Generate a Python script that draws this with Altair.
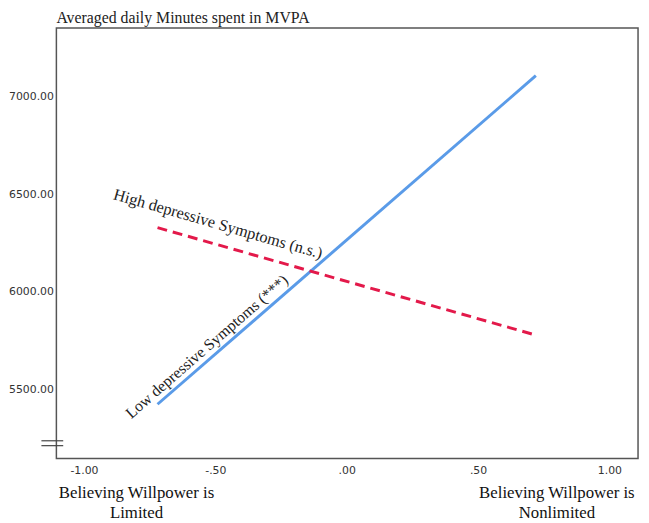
import altair as alt
import pandas as pd

# ---- data ----
x_points = [-0.72, 0.72]
low_vals = [5424, 7106]     # Low depressive Symptoms (***)
high_vals = [6328, 5778]    # High depressive Symptoms (n.s.)

y_ticks = [5500, 6000, 6500, 7000]
x_ticks = [-1.0, -0.5, 0.0, 0.5, 1.0]

label_text = ["High depressive Symptoms (n.s.)", "Low depressive Symptoms (***)"]
label_x = [-0.49, -0.532]
label_y = [6346, 5718]
label_angle = [16, 319]
label_size = [16.5, 16]

bottom_text = ["Believing Willpower is\nLimited", "Believing Willpower is\nNonlimited"]
bottom_x = [-0.80, 0.80]
bottom_y = [4968, 4968]

break_y = [5237, 5212]
break_x1 = [-1.162, -1.162]
break_x2 = [-1.079, -1.079]

X_DOM = [-1.105, 1.109]
Y_DOM = [5146, 7350]

low_df = pd.DataFrame({"x": x_points, "y": low_vals})
high_df = pd.DataFrame({"x": x_points, "y": high_vals})
lab_df = pd.DataFrame({"t": label_text, "x": label_x, "y": label_y,
                       "a": label_angle, "s": label_size})
bot_df = pd.DataFrame({"t": bottom_text, "x": bottom_x, "y": bottom_y})
brk_df = pd.DataFrame({"y": break_y, "x": break_x1, "x2": break_x2})

label_expr = ("datum.value == 0 ? '.00' : datum.value == 0.5 ? '.50' : "
              "datum.value == -0.5 ? '-.50' : datum.value == -1 ? '-1.00' : "
              "format(datum.value, '.2f')")

xs = alt.Scale(domain=X_DOM, nice=False, zero=False)
ys = alt.Scale(domain=Y_DOM, nice=False, zero=False)

x_axis = alt.Axis(values=x_ticks, labelExpr=label_expr, ticks=False, domain=False,
                  grid=False, labelPadding=6, labelFont="DejaVu Sans", labelFontSize=11,
                  labelColor="#333333", title=None)
y_axis = alt.Axis(values=y_ticks, format=".2f", ticks=False, domain=False, grid=False,
                  labelPadding=3, labelFont="DejaVu Sans", labelFontSize=11,
                  labelColor="#333333", title=None)

base_x = alt.X("x:Q", scale=xs, axis=x_axis)
base_y = alt.Y("y:Q", scale=ys, axis=y_axis)

low_line = alt.Chart(low_df).mark_line(color="#5a9be8", strokeWidth=3).encode(x=base_x, y=base_y)
high_line = alt.Chart(high_df).mark_line(color="#e3194a", strokeWidth=3,
                                         strokeDash=[10, 6]).encode(x=base_x, y=base_y)

labels = alt.Chart(lab_df).mark_text(font="Liberation Serif",
                                     color="#222222", align="center",
                                     baseline="middle").encode(
    x=alt.X("x:Q", scale=xs), y=alt.Y("y:Q", scale=ys), text="t:N",
    angle=alt.Angle("a:Q", scale=None), size=alt.Size("s:Q", scale=None))

bottom = alt.Chart(bot_df).mark_text(font="Liberation Serif", fontSize=17,
                                     color="#111111", align="center", baseline="middle",
                                     lineBreak="\n", lineHeight=20).encode(
    x=alt.X("x:Q", scale=xs), y=alt.Y("y:Q", scale=ys), text="t:N")

breaks = alt.Chart(brk_df).mark_rule(color="#444444", strokeWidth=1.2).encode(
    x=alt.X("x:Q", scale=xs), x2="x2:Q", y=alt.Y("y:Q", scale=ys))

chart = alt.layer(low_line, high_line, labels, bottom, breaks).properties(
    width=589, height=436,
    autosize=alt.AutoSizeParams(type="none"),
    padding={"left": 49, "top": 17, "right": 3, "bottom": 62},
    title=alt.TitleParams("Averaged daily Minutes spent in MVPA", anchor="start",
                          frame="group", font="Liberation Serif", fontSize=16,
                          fontWeight="normal", color="#222222", offset=2),
).configure_view(stroke="#555555", strokeWidth=1.5)

chart.save("out.html", embed_options={"renderer": "svg", "actions": False})
